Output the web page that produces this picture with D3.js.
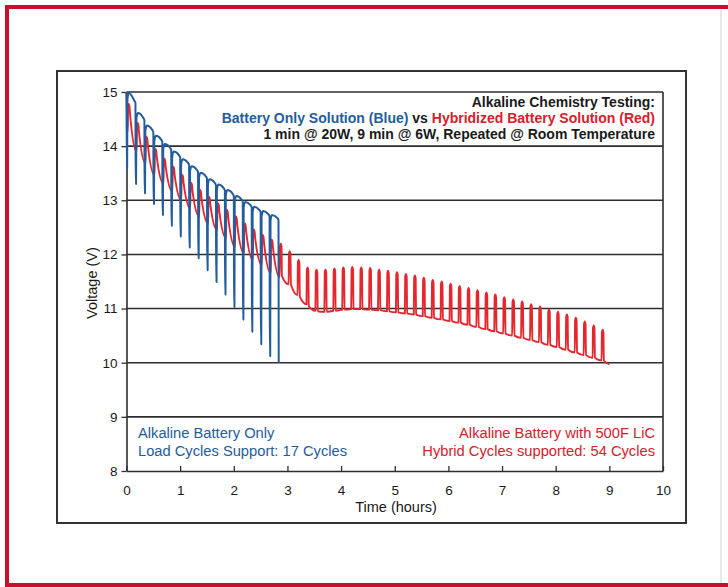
<!DOCTYPE html>
<html>
<head>
<meta charset="utf-8">
<script src="https://cdn.jsdelivr.net/npm/d3@7"></script>
<style>
  body { margin: 0; background: #fff; }
  svg { display: block; font-family: "Liberation Sans", Arial, sans-serif; }
</style>
</head>
<body>
<div id="chart"></div>
<script>
// ticks
const xTicks = [0, 1, 2, 3, 4, 5, 6, 7, 8, 9, 10]
const yTicks = [8, 9, 10, 11, 12, 13, 14, 15]

// test protocol: one cycle = 1 min @ 20W + 9 min @ 6W
const cycleMinutes = 10

// battery only (blue): voltage just before each 20W load, the dip, and the recovered peak
const bluePre = [15.0, 14.80, 14.48, 14.26, 14.08, 13.93, 13.79, 13.65, 13.52, 13.40, 13.28, 13.18, 13.08, 12.97, 12.87, 12.78, 12.70, 12.63]
const blueMin = [13.59, 13.30, 13.13, 12.93, 12.73, 12.53, 12.33, 12.13, 11.93, 11.71, 11.49, 11.26, 11.03, 10.80, 10.57, 10.34, 10.12, 10.0]
const blueTop = [14.98, 14.61, 14.38, 14.19, 14.04, 13.90, 13.76, 13.63, 13.51, 13.39, 13.29, 13.19, 13.08, 12.97, 12.88, 12.80, 12.73]

// hybrid (red): level before each pulse, pulse peak, level just after the pulse
const redStart = [0, 15.0]
const redLow = [14.27, 13.90, 13.68, 13.47, 13.31, 13.16, 13.00, 12.85, 12.70, 12.57,
  12.45, 12.30, 12.14, 12.02, 11.90, 11.80, 11.65, 11.58, 11.45, 11.25,
  11.08, 10.96, 10.94, 10.96, 10.98, 10.99, 10.99, 10.98, 10.97, 10.95,
  10.93, 10.91, 10.89, 10.86, 10.83, 10.80, 10.77, 10.74, 10.70, 10.66,
  10.62, 10.58, 10.54, 10.50, 10.46, 10.42, 10.38, 10.33, 10.29, 10.24,
  10.19, 10.14, 10.09, 10.04]
const redTop = [14.78, 14.43, 14.17, 13.95, 13.77, 13.62, 13.47, 13.32, 13.19, 13.06,
  12.94, 12.82, 12.70, 12.57, 12.46, 12.36, 12.27, 12.20, 12.06, 11.90,
  11.76, 11.72, 11.72, 11.74, 11.76, 11.77, 11.76, 11.75, 11.72, 11.70,
  11.67, 11.64, 11.61, 11.57, 11.53, 11.50, 11.46, 11.42, 11.38, 11.34,
  11.30, 11.26, 11.21, 11.17, 11.13, 11.08, 11.04, 10.99, 10.94, 10.89,
  10.83, 10.76, 10.69, 10.61]
const redAfter = [14.62, 14.28, 14.02, 13.80, 13.62, 13.47, 13.32, 13.17, 13.04, 12.91,
  12.79, 12.67, 12.55, 12.42, 12.31, 12.21, 12.12, 11.60, 11.45, 11.22,
  11.04, 10.95, 10.94, 10.96, 10.98, 10.99, 10.99, 10.98, 10.97, 10.95,
  10.93, 10.91, 10.89, 10.86, 10.83, 10.80, 10.77, 10.74, 10.70, 10.66,
  10.62, 10.58, 10.54, 10.50, 10.46, 10.42, 10.38, 10.33, 10.29, 10.24,
  10.19, 10.14, 10.09, 10.04]
const redEnd = [9.0, 9.97]

const blue = '#235d9c'
const red = '#e5262d'
const redText = '#d7202b'

const width = 728, height = 587
const svg = d3.select('#chart')
	.append('svg')
	.attr('width', width)
	.attr('height', height)

// outer red frame (open on the right, cut by the page edge)
svg.append('rect')
	.attr('x', 7).attr('y', 7)
	.attr('width', 760).attr('height', 578)
	.attr('fill', 'none')
	.attr('stroke', '#c8102e')
	.attr('stroke-width', 4)
svg.append('line')
	.attr('x1', 721).attr('x2', 721).attr('y1', 10).attr('y2', 583)
	.attr('stroke', '#e6e9ea').attr('stroke-width', 2)

// chart box
svg.append('rect')
	.attr('x', 57).attr('y', 71)
	.attr('width', 629).attr('height', 452)
	.attr('fill', '#fff')
	.attr('stroke', '#333')
	.attr('stroke-width', 2)

const x = d3.scaleLinear().domain([0, 10]).range([126.5, 663])
const y = d3.scaleLinear().domain([8, 15]).range([471, 92])

// grid
svg.append('g')
	.selectAll('line')
	.data(yTicks.filter(d => d > 8))
	.enter()
		.append('line')
			.attr('x1', x(0)).attr('x2', x(10))
			.attr('y1', d => y(d)).attr('y2', d => y(d))
			.attr('stroke', '#2e2e2e')
			.attr('stroke-width', 1.6)

svg.append('line')
	.attr('x1', x(10)).attr('x2', x(10))
	.attr('y1', y(15)).attr('y2', y(8))
	.attr('stroke', '#2e2e2e').attr('stroke-width', 1.6)

// axes
const xAxis = svg.append('g')
	.attr('transform', `translate(0,${y(8)})`)
	.call(d3.axisBottom(x).tickValues(xTicks).tickFormat(d3.format('d'))
		.tickSizeInner(-5).tickSizeOuter(0).tickPadding(14))
const yAxis = svg.append('g')
	.attr('transform', `translate(${x(0)},0)`)
	.call(d3.axisLeft(y).tickValues(yTicks).tickFormat(d3.format('d'))
		.tickSize(5).tickSizeOuter(0).tickPadding(4))

;[xAxis, yAxis].forEach(a => {
	a.select('.domain').attr('stroke', '#2e2e2e').attr('stroke-width', 1.6)
	a.selectAll('.tick line').attr('stroke', '#2e2e2e').attr('stroke-width', 1.3)
	a.selectAll('.tick text')
		.attr('fill', '#1a1a1a')
		.style('font-family', '"Liberation Sans", Arial, sans-serif')
		.style('font-size', '13.5px')
})

svg.append('text')
	.attr('x', 396).attr('y', 512)
	.attr('text-anchor', 'middle')
	.attr('font-size', 14.5)
	.attr('fill', '#1a1a1a')
	.text('Time (hours)')

svg.append('text')
	.attr('transform', 'translate(97,283) rotate(-90)')
	.attr('text-anchor', 'middle')
	.attr('font-size', 14.5)
	.attr('fill', '#1a1a1a')
	.text('Voltage (V)')

// build the traces from the cycle values
const cycleH = cycleMinutes / 60

const bluePts = []
bluePre.forEach((pre, k) => {
	const t = k * cycleH
	if (k > 0) bluePts.push([t - 0.02, pre + 0.04])
	bluePts.push([t, pre], [t + 0.004, blueMin[k]])
	if (k < blueTop.length) {
		bluePts.push([t + 0.012, blueMin[k]], [t + 0.018, blueTop[k] - 0.1], [t + 0.045, blueTop[k]])
	}
})

const redOffset = 0.03
const redPts = [redStart]
redTop.forEach((top, j) => {
	const t = j * cycleH + redOffset
	redPts.push([t - 0.008, redLow[j]], [t - 0.002, top - 0.05], [t + 0.012, top],
		[t + 0.026, top - 0.05], [t + 0.034, redAfter[j]])
})
redPts.push(redEnd)

const line = d3.line()
	.x(d => x(d[0]))
	.y(d => y(d[1]))
	.curve(d3.curveMonotoneX)

svg.append('path')
	.datum(redPts)
	.attr('d', line)
	.attr('fill', 'none')
	.attr('stroke', red)
	.attr('stroke-width', 1.9)
	.attr('stroke-linejoin', 'round')

svg.append('path')
	.datum(bluePts)
	.attr('d', line)
	.attr('fill', 'none')
	.attr('stroke', blue)
	.attr('stroke-width', 2)
	.attr('stroke-linejoin', 'round')

// header text
const head = svg.append('g')
	.attr('text-anchor', 'end')
	.attr('font-weight', 'bold')
	.attr('font-size', 14)

head.append('text').attr('x', 655).attr('y', 107).attr('fill', '#1a1a1a')
	.text('Alkaline Chemistry Testing:')
const l2 = head.append('text').attr('x', 655).attr('y', 123)
l2.append('tspan').attr('fill', blue).text('Battery Only Solution (Blue)')
l2.append('tspan').attr('fill', '#1a1a1a').text(' vs ')
l2.append('tspan').attr('fill', redText).text('Hybridized Battery Solution (Red)')
head.append('text').attr('x', 655).attr('y', 139).attr('fill', '#1a1a1a')
	.text('1 min @ 20W, 9 min @ 6W, Repeated @ Room Temperature')

// notes
const notes = svg.append('g').attr('font-size', 14.7)
notes.append('text').attr('x', 138).attr('y', 438).attr('fill', blue).text('Alkaline Battery Only')
notes.append('text').attr('x', 138).attr('y', 456).attr('fill', blue).text('Load Cycles Support: 17 Cycles')
notes.append('text').attr('x', 655).attr('y', 438).attr('text-anchor', 'end').attr('fill', redText).text('Alkaline Battery with 500F LiC')
notes.append('text').attr('x', 655).attr('y', 456).attr('text-anchor', 'end').attr('fill', redText).text('Hybrid Cycles supported: 54 Cycles')
</script>
</body>
</html>
